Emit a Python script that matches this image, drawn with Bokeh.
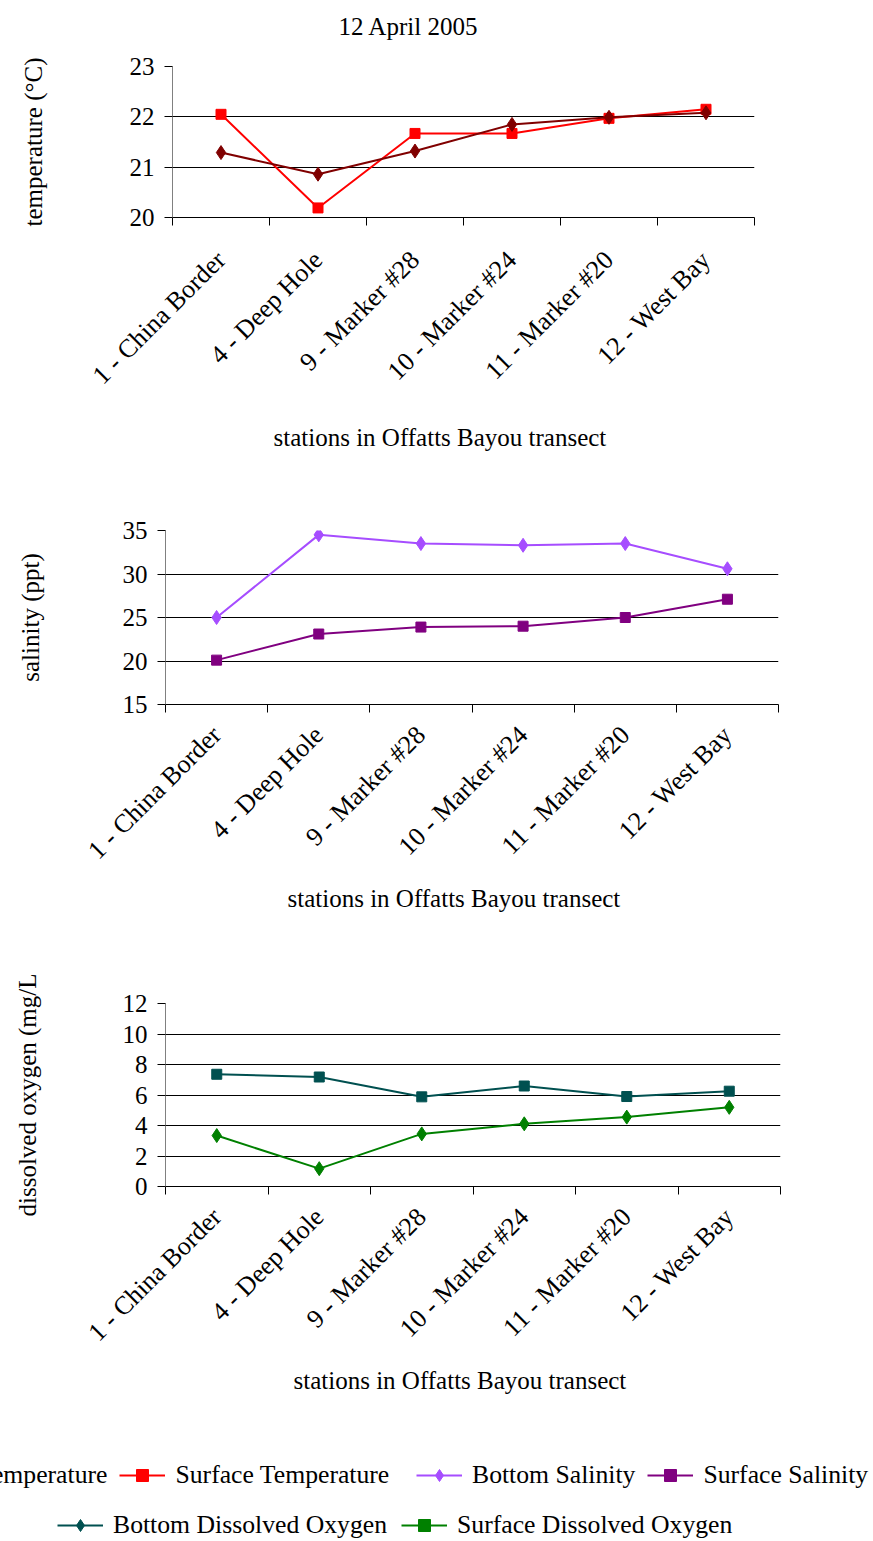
import math
from bokeh.plotting import figure
from bokeh.models import Range1d, FixedTicker, Title, Legend, LegendItem
from bokeh.embed import file_html
from bokeh.resources import INLINE

# ---------------- data ----------------
stations = ["1 - China Border", "4 - Deep Hole", "9 - Marker #28",
            "10 - Marker #24", "11 - Marker #20", "12 - West Bay"]
bottom_temperature = [21.29, 20.86, 21.32, 21.85, 21.99, 22.08]
surface_temperature = [22.05, 20.19, 21.67, 21.67, 21.97, 22.15]
bottom_salinity = [25.0, 34.5, 33.5, 33.3, 33.5, 30.6]
surface_salinity = [20.1, 23.1, 23.9, 24.0, 25.0, 27.1]
bottom_do = [7.36, 7.18, 5.88, 6.59, 5.90, 6.25]
surface_do = [3.34, 1.17, 3.45, 4.11, 4.55, 5.19]
temp_ticks = [20, 21, 22, 23]
sal_ticks = [15, 20, 25, 30, 35]
do_ticks = [0, 2, 4, 6, 8, 10, 12]
title_text = "12 April 2005"
x_title = "stations in Offatts Bayou transect"

FONT = "Liberation Serif"
FS = "25px"
TICK_FS = "26px"
LEG_FS = "25.7px"

C_BT = "#800000"
C_ST = "#ff0000"
C_BS = "#a64dff"
C_SS = "#800080"
C_BDO = "#005050"
C_SDO = "#008000"


def make_chart(height, top, left, right, bottom, yticks, ylabel, ylabel_standoff,
               xlab_standoff, xtitle_offset, xtitle_standoff, title=None, title_offset=0):
    n = len(stations)
    xs = list(range(1, n + 1))
    p = figure(width=873, height=height,
               x_range=Range1d(0.5, n + 0.5),
               y_range=Range1d(yticks[0], yticks[-1]),
               output_backend="svg", toolbar_location=None,
               min_border_top=top, min_border_left=left,
               min_border_right=right, min_border_bottom=bottom)
    p.outline_line_color = None
    p.background_fill_color = "white"
    p.border_fill_color = "white"

    if title:
        p.title.text = title + "\n"
        p.title.align = "left"
        p.title.offset = title_offset
        p.title.standoff = 0
        p.title.vertical_align = "bottom"
        p.title.text_font = FONT
        p.title.text_font_size = FS
        p.title.text_font_style = "normal"
        p.title.text_color = "black"

    # x axis: labels at category centres, ticks on category boundaries
    xa = p.xaxis[0]
    xa.ticker = FixedTicker(ticks=xs, minor_ticks=[x - 0.5 for x in xs] + [n + 0.5])
    xa.major_label_overrides = {x: s for x, s in zip(xs, stations)}
    xa.major_label_orientation = math.pi / 4
    xa.major_label_text_font = FONT
    xa.major_label_text_font_size = TICK_FS
    xa.major_label_text_color = "black"
    xa.major_label_standoff = xlab_standoff
    xa.major_tick_in = 0
    xa.major_tick_out = 0
    xa.minor_tick_in = 0
    xa.minor_tick_out = 8
    xa.minor_tick_line_color = "black"
    xa.axis_line_color = "black"

    ya = p.yaxis[0]
    ya.ticker = FixedTicker(ticks=yticks, minor_ticks=[])
    ya.major_label_text_font = FONT
    ya.major_label_text_font_size = FS
    ya.major_label_text_color = "black"
    ya.major_label_standoff = 10
    ya.major_tick_in = 0
    ya.major_tick_out = 8
    ya.major_tick_line_color = "black"
    ya.axis_line_color = "#808080"
    ya.axis_label = ylabel
    ya.axis_label_text_font = FONT
    ya.axis_label_text_font_size = FS
    ya.axis_label_text_font_style = "normal"
    ya.axis_label_text_color = "black"
    ya.axis_label_standoff = ylabel_standoff

    p.xgrid.visible = False
    p.ygrid.ticker = FixedTicker(ticks=yticks)
    p.ygrid.grid_line_color = "black"
    p.ygrid.grid_line_width = 1

    t = Title(text=x_title, align="left", offset=xtitle_offset, vertical_align="middle",
              text_font=FONT, text_font_size=FS, text_font_style="normal",
              text_color="black", standoff=xtitle_standoff)
    p.add_layout(t, "below")
    return p, xs


def series(p, xs, ys, color, marker, size):
    l = p.line(xs, ys, line_color=color, line_width=2)
    s = p.scatter(xs, ys, marker=marker, size=size, fill_color=color, line_color=color)
    return l, s


p1, xs = make_chart(490, 66, 172, 119, 273, temp_ticks, "temperature (\u00b0C)", 80,
                    30, 101, 38, title=title_text, title_offset=166)
series(p1, xs, surface_temperature, C_ST, "square", 10)
series(p1, xs, bottom_temperature, C_BT, "diamond", 14)

p2, xs = make_chart(475, 40, 165, 95, 261, sal_ticks, "salinity (ppt)", 76,
                    18, 122, 10)
series(p2, xs, bottom_salinity, C_BS, "diamond", 14)
series(p2, xs, surface_salinity, C_SS, "square", 10)

p3, xs = make_chart(475, 38, 165, 93, 254, do_ticks, "dissolved oxygen (mg/L", 79,
                    18, 128, 10)
series(p3, xs, bottom_do, C_BDO, "square", 10)
series(p3, xs, surface_do, C_SDO, "diamond", 14)

# ---------------- legends (separate strip, renderers fall outside its ranges) ----------------
lg = figure(width=873, height=101, output_backend="svg", toolbar_location=None,
            x_range=Range1d(-1, 0), y_range=Range1d(-1, 0),
            x_axis_location=None, y_axis_location=None, min_border=0)
lg.grid.visible = False
lg.outline_line_color = None


def legend_item(label, ys, color, marker, size):
    l, s = series(lg, xs, ys, color, marker, size)
    return LegendItem(label=label, renderers=[l, s])


def add_legend(items, loc, spacing):
    leg = Legend(items=items, location=loc, orientation="horizontal",
                 label_text_font=FONT, label_text_font_size=LEG_FS, label_text_color="black",
                 glyph_width=46, glyph_height=30, label_height=30, label_standoff=10,
                 spacing=spacing, padding=0, margin=0,
                 border_line_color=None, background_fill_alpha=0)
    lg.add_layout(leg)


add_legend([legend_item("Bottom Temperature", bottom_temperature, C_BT, "diamond", 12),
            legend_item("Surface Temperature", surface_temperature, C_ST, "square", 9)],
           (-161, 51), 12)
add_legend([legend_item("Bottom Salinity", bottom_salinity, C_BS, "diamond", 12),
            legend_item("Surface Salinity", surface_salinity, C_SS, "square", 9)],
           (416, 51), 12)
add_legend([legend_item("Bottom Dissolved Oxygen", bottom_do, C_BDO, "diamond", 12),
            legend_item("Surface Dissolved Oxygen", surface_do, C_SDO, "square", 9)],
           (57, 1), 14)

open("out.html", "w").write(file_html([p1, p2, p3, lg], INLINE))
